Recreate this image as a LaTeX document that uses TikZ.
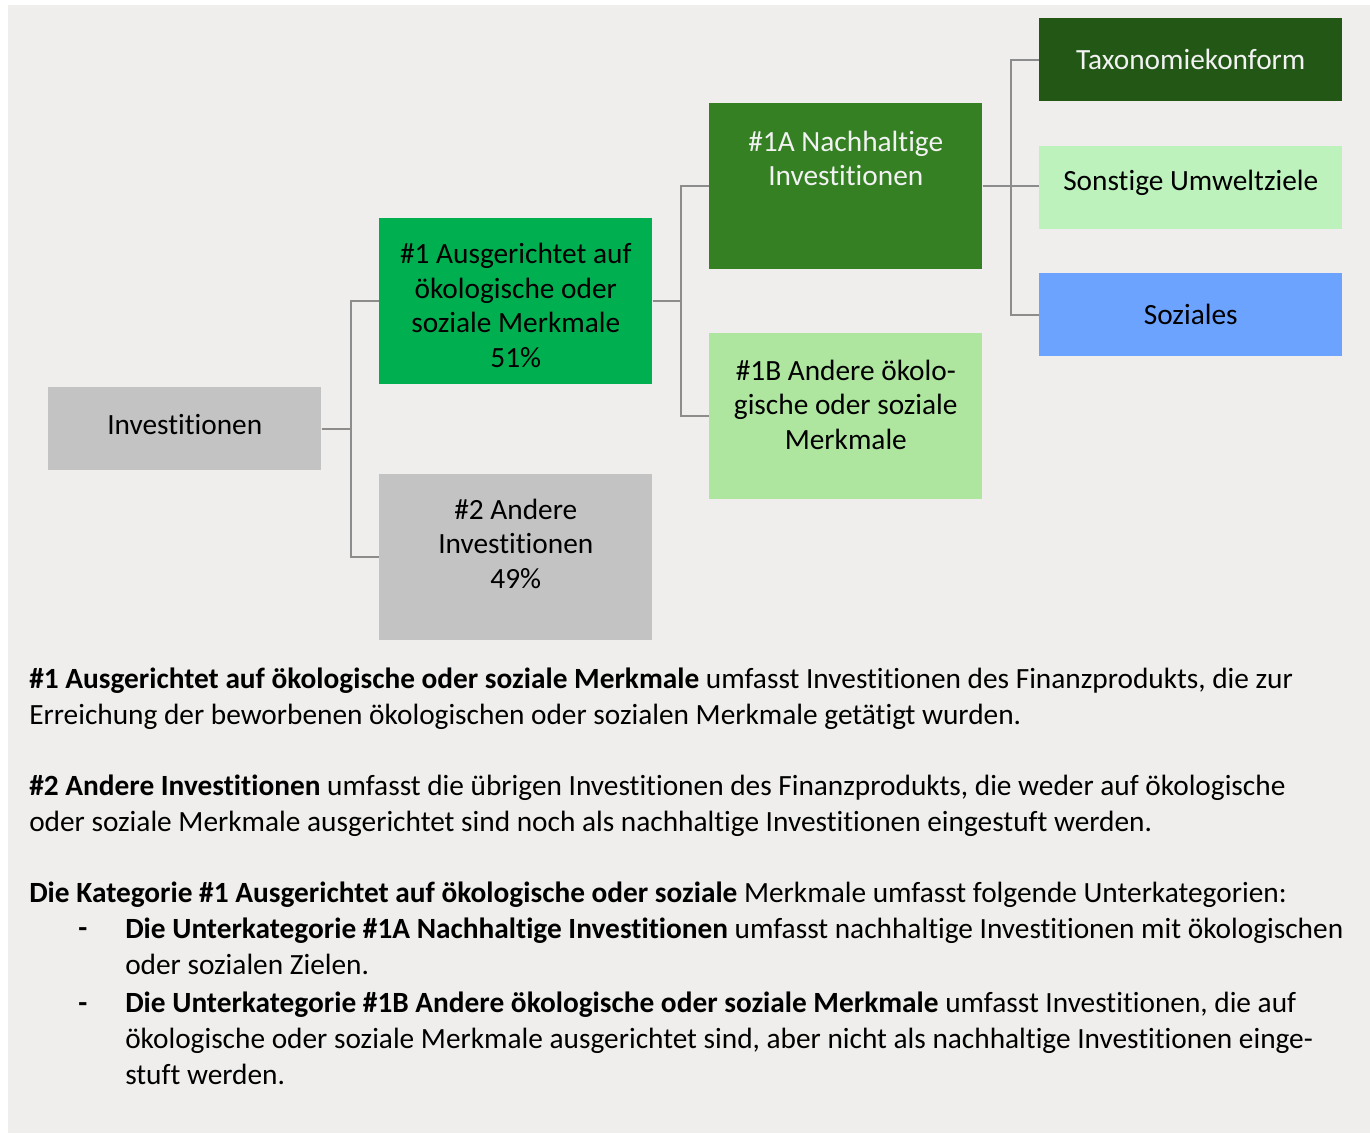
\documentclass[tikz,border=0pt]{standalone}
\usepackage{fontspec}
\setmainfont{Carlito}[Ligatures=NoCommon]
\usepackage{xcolor}
\usetikzlibrary{positioning,calc}

\definecolor{paper}{HTML}{EFEEEC}
\definecolor{invgray}{HTML}{C3C3C3}
\definecolor{linegray}{HTML}{8C8C8C}
\definecolor{charGreen}{HTML}{00B050}
\definecolor{sustGreen}{HTML}{348023}
\definecolor{otherGreen}{HTML}{AEE6A0}
\definecolor{taxoGreen}{HTML}{225716}
\definecolor{envGreen}{HTML}{BDF2BC}
\definecolor{socialBlue}{HTML}{6BA3FF}
\definecolor{lighttext}{HTML}{F2F2F2}

\newcommand{\boxfont}{\fontsize{22}{26}\selectfont}
\newcommand{\bodyfont}{\fontsize{22}{27}\selectfont}

\begin{document}
\begin{tikzpicture}[
    x=0.75pt, y=-0.75pt,
    smallbox/.style={rectangle, inner sep=0pt, minimum width=204.75pt, minimum height=62.25pt},
    bigbox/.style={rectangle, inner sep=0pt, minimum width=204.75pt, minimum height=124.5pt},
    widebox/.style={rectangle, inner sep=0pt, minimum width=227.25pt, minimum height=62.25pt},
    boxtext/.style={align=center, inner sep=0pt, font=\boxfont},
    bodytext/.style={anchor=base west, align=left, inner sep=0pt, font=\bodyfont},
    link/.style={draw=linegray, line width=1.5pt}
]

% page and grey panel
\useasboundingbox (0,0) rectangle (1370,1133);
\fill[white] (0,0) rectangle (1370,1133);
\fill[paper] (8,5) rectangle (1370,1133);

% tree boxes
\node[smallbox, fill=invgray, anchor=north west] (inv) at (48,387) {};
\node[bigbox, fill=charGreen, anchor=north west] (char-1) at (379,218) {};
\node[bigbox, fill=invgray, below=66.75pt of char-1] (other-2) {};
\node[bigbox, fill=sustGreen, anchor=north west] (sust-1a) at (709,103) {};
\node[bigbox, fill=otherGreen, below=47.25pt of sust-1a] (other-1b) {};
\node[widebox, fill=taxoGreen, anchor=north west] (taxo) at (1039,18) {};
\node[widebox, fill=envGreen, below=33pt of taxo] (env) {};
\node[widebox, fill=socialBlue, below=33pt of env] (social) {};

% box labels
\node[boxtext] (inv-txt) at ($(inv.center)+(0,-4)$) {Investitionen};
\node[boxtext] (char-1-txt) at ($(char-1.center)+(0,4)$) {\#1 Ausgerichtet auf\\ökologische oder\\soziale Merkmale\\51\%};
\node[boxtext] (other-2-txt) at ($(other-2.center)+(0,-13)$) {\#2 Andere\\Investitionen\\49\%};
\node[boxtext, text=lighttext] (sust-1a-txt) at ($(sust-1a.center)+(0,-28)$) {\#1A Nachhaltige\\Investitionen};
\node[boxtext] (other-1b-txt) at ($(other-1b.center)+(0,-11)$) {\#1B Andere ökolo-\\gische oder soziale\\Merkmale};
\node[boxtext, text=lighttext] (taxo-txt) at (taxo.center) {Taxonomiekonform};
\node[boxtext] (env-txt) at ($(env.center)+(0,-4)$) {Sonstige Umweltziele};
\node[boxtext] (social-txt) at (social.center) {Soziales};

% connectors
\draw[link] (inv.east) -- ++(29,0) |- (char-1.west);
\draw[link] (inv.east) -- ++(29,0) |- (other-2.west);
\draw[link] (char-1.east) -- ++(28,0) |- (sust-1a.west);
\draw[link] (char-1.east) -- ++(28,0) |- (other-1b.west);
\draw[link] (sust-1a.east) -- ++(28,0) |- (taxo.west);
\draw[link] (sust-1a.east) -- (sust-1a.east -| env.west);
\draw[link] (sust-1a.east) -- ++(28,0) |- (social.west);

% explanations (base = last line)
\node[bodytext] (expl-1) at (29,724) {\textbf{\#1 Ausgerichtet auf ökologische oder soziale Merkmale} umfasst Investitionen des Finanzprodukts, die zur\\Erreichung der beworbenen ökologischen oder sozialen Merkmale getätigt wurden.};
\node[bodytext] (expl-2) at (29,831) {\textbf{\#2 Andere Investitionen} umfasst die übrigen Investitionen des Finanzprodukts, die weder auf ökologische\\oder soziale Merkmale ausgerichtet sind noch als nachhaltige Investitionen eingestuft werden.};
\node[bodytext] (expl-3) at (29,902) {\textbf{Die Kategorie \#1 Ausgerichtet auf ökologische oder soziale} Merkmale umfasst folgende Unterkategorien:};
\node[bodytext] (dash-1a) at (78,937) {\textbf{-}};
\node[bodytext] (expl-1a) at (125,974) {\textbf{Die Unterkategorie \#1A Nachhaltige Investitionen} umfasst nachhaltige Investitionen mit ökologischen\\oder sozialen Zielen.};
\node[bodytext] (dash-1b) at (78,1012) {\textbf{-}};
\node[bodytext] (expl-1b) at (125,1084) {\textbf{Die Unterkategorie \#1B Andere ökologische oder soziale Merkmale} umfasst Investitionen, die auf\\ökologische oder soziale Merkmale ausgerichtet sind, aber nicht als nachhaltige Investitionen einge-\\stuft werden.};

\end{tikzpicture}
\end{document}
